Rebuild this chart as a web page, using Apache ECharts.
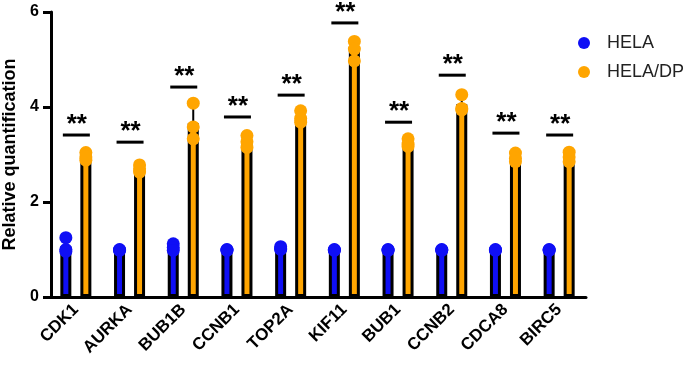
<!DOCTYPE html>
<html>
<head>
<meta charset="utf-8">
<script src="https://cdn.jsdelivr.net/npm/echarts@6/dist/echarts.min.js"></script>
<style>
  html, body { margin: 0; padding: 0; background: #fff; }
  #chart { width: 687px; height: 367px; }
</style>
</head>
<body>
<div id="chart"></div>
<script>
// genes on the x axis
var genes = ['CDK1', 'AURKA', 'BUB1B', 'CCNB1', 'TOP2A', 'KIF11', 'BUB1', 'CCNB2', 'CDCA8', 'BIRC5'];

// bar heights (mean)
var helaMean = [1.07, 0.99, 1.05, 0.99, 1.03, 0.99, 0.99, 0.99, 0.99, 0.99];
var dpMean = [2.93, 2.69, 3.66, 3.27, 3.79, 5.19, 3.24, 4.06, 2.93, 2.95];

// error bar tops (mean + SD)
var helaErr = [1.22, 1.0, 1.1, 1.0, 1.05, 1.0, 1.0, 1.0, 1.0, 1.0];
var dpErr = [3.01, 2.76, 4.04, 3.39, 3.91, 5.4, 3.33, 4.24, 3.04, 3.05];

// replicate points
var helaDots = [[1.25, 1.0, 0.96], [0.99, 1.0, 0.98], [1.12, 1.04, 0.98], [1.0, 0.99, 0.98], [1.06, 1.02, 1.0],
  [1.0, 0.99, 0.98], [1.0, 0.99, 0.98], [1.0, 0.99, 0.98], [1.0, 0.99, 0.98], [1.0, 0.99, 0.98]];
var dpDots = [[3.04, 2.95, 2.88], [2.78, 2.7, 2.63], [4.08, 3.58, 3.33], [3.4, 3.27, 3.15], [3.92, 3.76, 3.68],
  [5.38, 5.22, 4.97], [3.33, 3.22, 3.17], [4.26, 3.97, 3.94], [3.03, 2.92, 2.85], [3.05, 2.95, 2.85]];

// significance bars
var sigY = [3.41, 3.26, 4.42, 3.79, 4.25, 5.77, 3.68, 4.67, 3.45, 3.41];
var sigText = ['**', '**', '**', '**', '**', '**', '**', '**', '**', '**'];

var yTicks = [0, 2, 4, 6];

var BLUE = '#0f0ff5';
var ORANGE = '#ffa500';
var FONT = 'Arial, "Liberation Sans", sans-serif';

var chart = echarts.init(document.getElementById('chart'));

function dotData(reps) {
  var out = [];
  reps.forEach(function (arr, i) {
    arr.forEach(function (v) { out.push([i, v]); });
  });
  return out;
}

function errSeries(name, mean, err, off) {
  return {
    name: name,
    type: 'custom',
    z: 3,
    data: genes.map(function (g, i) { return [i, mean[i], err[i]]; }),
    renderItem: function (params, api) {
      var p0 = api.coord([api.value(0), api.value(1)]);
      var p1 = api.coord([api.value(0), api.value(2)]);
      var x = p0[0] + off;
      var st = { stroke: '#000', lineWidth: 2 };
      return {
        type: 'group',
        children: [
          { type: 'line', shape: { x1: x, y1: p0[1], x2: x, y2: p1[1] }, style: st },
          { type: 'line', shape: { x1: x - 4, y1: p1[1], x2: x + 4, y2: p1[1] }, style: st }
        ]
      };
    }
  };
}

chart.setOption({
  backgroundColor: '#fff',
  animation: false,
  grid: { left: 49, right: 101, top: 12, bottom: 70, containLabel: false, outerBoundsMode: 'none' },
  legend: {
    orient: 'vertical',
    left: 573,
    top: 29,
    icon: 'circle',
    itemWidth: 12,
    itemHeight: 12,
    itemGap: 11,
    data: ['HELA', 'HELA/DP'],
    itemStyle: { borderWidth: 0 },
    textStyle: { fontFamily: FONT, fontSize: 18, lineHeight: 18, color: '#222', padding: [0, 0, 0, 12] }
  },
  xAxis: {
    type: 'category',
    data: genes,
    axisLine: { lineStyle: { color: '#000', width: 3 } },
    axisTick: { alignWithLabel: true, length: 8, lineStyle: { color: '#000', width: 3 } },
    axisLabel: { rotate: 45, margin: 10, color: '#000', fontFamily: FONT, fontWeight: 'bold', fontSize: 17 }
  },
  yAxis: {
    type: 'value',
    min: 0,
    max: 6,
    interval: 2,
    offset: -2,
    name: 'Relative quantification',
    nameLocation: 'middle',
    nameGap: 30,
    nameTextStyle: { fontFamily: FONT, fontWeight: 'bold', fontSize: 18, color: '#000' },
    axisLine: { show: true, lineStyle: { color: '#000', width: 3 } },
    axisTick: { show: true, length: 8, lineStyle: { color: '#000', width: 3 } },
    axisLabel: {
      color: '#000', fontFamily: FONT, fontWeight: 'bold', fontSize: 16, margin: 12,
      formatter: function (v) { return yTicks.indexOf(v) >= 0 ? String(v) : ''; }
    },
    splitLine: { show: false }
  },
  series: [
    {
      name: 'HELA', type: 'bar', data: helaMean, barWidth: 11, barGap: '82%', z: 2,
      itemStyle: { color: BLUE, borderColor: '#000', borderWidth: 3 }
    },
    {
      name: 'HELA/DP', type: 'bar', data: dpMean, barWidth: 11, z: 2,
      itemStyle: { color: ORANGE, borderColor: '#000', borderWidth: 3 }
    },
    errSeries('HELA', helaMean, helaErr, -10),
    errSeries('HELA/DP', dpMean, dpErr, 10),
    {
      name: 'HELA', type: 'scatter', data: dotData(helaDots), symbol: 'circle', symbolSize: 13,
      symbolOffset: [-10, 0], z: 4, itemStyle: { color: BLUE, opacity: 1 }
    },
    {
      name: 'HELA/DP', type: 'scatter', data: dotData(dpDots), symbol: 'circle', symbolSize: 13,
      symbolOffset: [10, 0], z: 4, itemStyle: { color: ORANGE, opacity: 1 }
    },
    {
      name: 'sig', type: 'custom', z: 5,
      data: genes.map(function (g, i) { return [i, sigY[i]]; }),
      renderItem: function (params, api) {
        var p = api.coord([api.value(0), api.value(1)]);
        var i = params.dataIndex;
        return {
          type: 'group',
          children: [
            { type: 'line', shape: { x1: p[0] - 13, y1: p[1], x2: p[0] + 14, y2: p[1] },
              style: { stroke: '#000', lineWidth: 3 } },
            { type: 'text', x: p[0] + 1, y: p[1] + 3,
              style: { text: sigText[i], fontFamily: FONT, fontWeight: 'bold', fontSize: 26,
                fill: '#000', align: 'center', verticalAlign: 'bottom' } }
          ]
        };
      }
    }
  ]
});
</script>
</body>
</html>
